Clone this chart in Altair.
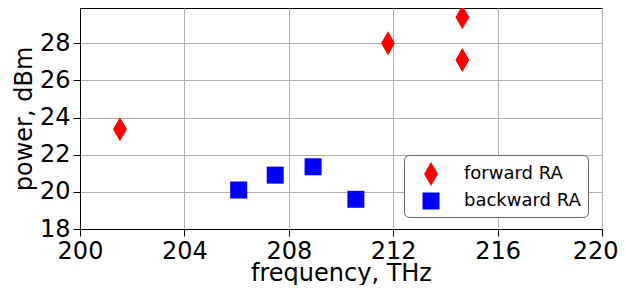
import altair as alt
import pandas as pd

series_names = ["forward RA", "backward RA"]
forward_freq = [201.53, 211.8, 214.65, 214.65]
forward_power = [23.37, 28.0, 29.4, 27.1]
backward_freq = [206.08, 207.48, 208.93, 210.57]
backward_power = [20.1, 20.9, 21.35, 19.6]
x_ticks = [200, 204, 208, 212, 216, 220]
y_ticks = [18, 20, 22, 24, 26, 28]

df = pd.DataFrame({
    "freq": forward_freq + backward_freq,
    "power": forward_power + backward_power,
    "series": [series_names[0]] * len(forward_freq) + [series_names[1]] * len(backward_freq),
})

diamond = "M0,-1L0.58,0L0,1L-0.58,0Z"
font = "DejaVu Sans"

legend = alt.Legend(
    title=None, orient="none", legendX=324, legendY=147,
    labelFontSize=18, labelFont=font, labelColor="black",
    padding=7, symbolOffset=8, labelOffset=21, rowPadding=6,
    strokeColor="#666666", fillColor="white", cornerRadius=5,
    symbolStrokeWidth=0,
)

chart = alt.Chart(df).mark_point(filled=True, opacity=1, strokeWidth=0).encode(
    x=alt.X("freq:Q", scale=alt.Scale(domain=[200, 220], nice=False, zero=False),
            axis=alt.Axis(values=x_ticks, title="frequency, THz", format="d",
                          titleBaseline="alphabetic", titleY=51,
                          labelAlign=alt.ExprRef("datum.value == 220 ? 'right' : 'center'"),
                          labelOffset={"condition": {"test": "datum.value == 220", "value": 16}, "value": 0})),
    y=alt.Y("power:Q", scale=alt.Scale(domain=[18, 29.9], nice=False, zero=False),
            axis=alt.Axis(values=y_ticks, title="power, dBm", format="d")),
    color=alt.Color("series:N", scale=alt.Scale(domain=series_names, range=["#ff0000", "#0000ff"]), legend=legend),
    shape=alt.Shape("series:N", scale=alt.Scale(domain=series_names, range=[diamond, "square"]), legend=legend),
    size=alt.Size("series:N", scale=alt.Scale(domain=series_names, range=[576, 289]), legend=legend),
).properties(
    width=522, height=221,
    autosize=alt.AutoSizeParams(type="none"),
    padding={"left": 72, "top": 0, "right": 16, "bottom": 56},
).configure_view(
    stroke="black", strokeWidth=1,
).configure_axis(
    labelFont=font, titleFont=font, labelFontSize=24, titleFontSize=24,
    labelColor="black", titleColor="black", titleFontWeight="normal",
    domainColor="black", tickColor="black", tickSize=7, domainWidth=1,
    gridColor="#b0b0b0", gridWidth=1, labelPadding=3, titlePadding=3,
    labelFlush=False, labelOverlap=False,
)

chart.save("out.html", embed_options={"renderer": "svg", "actions": False})
